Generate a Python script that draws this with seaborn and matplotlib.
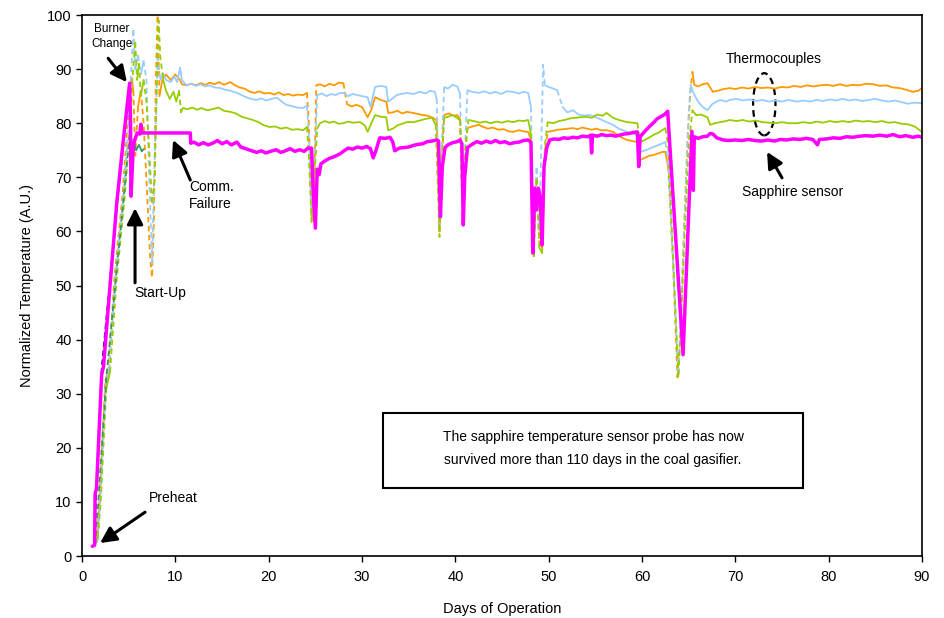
import matplotlib
matplotlib.use("Agg")
import matplotlib.pyplot as plt
from matplotlib.patches import Ellipse, Rectangle
import pandas as pd
import seaborn as sns

sns.set_theme(style="ticks")
plt.rcParams["font.family"] = ["Liberation Sans", "DejaVu Sans"]
plt.rcParams["text.color"] = "black"

# ---- sapphire sensor ----
sapphire_days = [1.1, 1.35, 1.4, 1.55, 2.1, 2.3, 3.0, 3.75, 4.4, 5.1, 5.2, 5.25, 5.5, 5.9, 6.2, 6.3, 6.4,
                 11.6, 11.65, 12.0, 12.5, 13.0, 13.5, 14.0, 14.5, 15.0, 15.5, 16.0, 16.6, 17.0, 17.5, 18.0,
                 18.7, 19.2, 19.7, 20.2, 20.8, 21.3, 21.8, 22.3, 22.8, 23.3, 23.8, 24.2, 24.6, 24.75, 25.0,
                 25.2, 25.4, 25.6, 26.0, 26.5, 27.0, 27.6, 28.0, 28.5, 29.0, 29.5, 30.0, 30.5, 30.9, 31.2,
                 31.5, 31.9, 32.5, 33.0, 33.3, 33.5, 34.0, 34.5, 35.0, 35.5, 36.0, 36.5, 37.0, 37.5, 38.0,
                 38.2, 38.4, 38.6, 38.9, 39.2, 39.7, 40.2, 40.5, 40.7, 40.85, 41.0, 41.3, 41.8, 42.3, 42.8,
                 43.3, 43.8, 44.3, 44.8, 45.3, 45.8, 46.3, 46.8, 47.3, 47.8, 48.1, 48.3, 48.5, 48.7, 48.9,
                 49.1, 49.3, 49.5, 49.8, 50.1, 50.6, 51.1, 51.6, 52.1, 52.6, 53.1, 53.6, 54.2, 54.5, 54.6,
                 54.7, 55.2, 55.7, 56.2, 56.7, 57.2, 57.6, 58.1, 58.6, 59.1, 59.5, 59.65, 59.8, 60.3, 60.8,
                 61.3, 61.6, 62.0, 62.4, 62.75, 64.4, 65.35, 65.5, 65.6, 66.0, 66.5, 67.0, 67.3, 67.6, 68.0,
                 68.7, 69.3, 70.0, 70.7, 71.4, 72.1, 72.8, 73.5, 74.2, 74.8, 75.5, 76.2, 76.9, 77.6, 78.3,
                 78.8, 79.0, 79.8, 80.5, 81.2, 81.9, 82.6, 83.3, 84.0, 84.7, 85.5, 86.2, 86.9, 87.6, 88.3,
                 89.0, 89.6, 90.0]
sapphire_temp = [1.8, 2.0, 11.5, 12.5, 33.5, 35.0, 50.0, 65.8, 76.5, 87.4, 80.0, 66.5, 76.0, 78.2, 78.0, 79.8, 78.2,
                 78.2, 76.3, 76.5, 76.0, 76.4, 76.0, 76.3, 76.8, 76.2, 76.6, 76.0, 76.5, 75.6, 75.3, 75.0,
                 74.6, 74.9, 74.5, 74.8, 75.1, 74.6, 74.9, 75.3, 74.8, 75.1, 74.8, 75.4, 75.4, 68.0, 60.6,
                 71.5, 70.5, 72.5, 73.0, 73.5, 73.8, 74.3, 74.8, 75.4, 75.2, 75.6, 75.4, 75.7, 75.3, 73.6,
                 75.0, 77.3, 77.2, 77.4, 76.5, 74.9, 75.4, 75.5, 75.6, 75.9, 76.1, 76.2, 76.6, 76.7, 76.9,
                 76.7, 62.7, 72.0, 75.5, 76.0, 76.4, 76.6, 76.9, 76.2, 61.2, 70.0, 75.5, 76.1, 76.6, 76.3,
                 76.7, 76.4, 76.8, 76.4, 76.6, 76.2, 76.4, 76.5, 76.8, 76.9, 76.5, 56.0, 68.0, 64.0, 68.0,
                 66.0, 57.5, 72.0, 75.5, 76.9, 77.1, 77.0, 77.3, 77.2, 77.4, 77.3, 77.6, 77.5, 77.8, 74.5,
                 77.8, 77.6, 77.9, 77.7, 77.8, 77.6, 77.8, 78.0, 78.1, 78.3, 78.4, 72.0, 77.5, 78.5, 79.4,
                 80.2, 80.8, 81.2, 81.6, 82.2, 37.2, 78.5, 67.6, 77.5, 77.2, 77.5, 77.6, 78.1, 78.0, 77.3,
                 76.9, 76.8, 76.9, 76.8, 77.0, 76.8, 76.7, 76.9, 76.7, 77.0, 76.9, 77.1, 77.0, 77.2, 77.0,
                 76.0, 77.0, 77.1, 77.3, 77.2, 77.5, 77.4, 77.6, 77.7, 77.6, 77.8, 77.6, 77.9, 77.5, 77.7,
                 77.4, 77.6, 77.4]

# ---- thermocouple 1 (orange) ----
tc1_days = [1.2, 1.6, 1.9, 2.5, 2.8, 3.5, 4.3, 4.8, 5.3, 5.5, 5.7, 6.0, 6.3, 6.6, 7.0, 7.3, 7.5, 7.7, 7.9, 8.1,
            8.3, 8.6, 9.0, 9.5, 10.0, 10.5, 10.7, 11.2, 11.7, 12.2, 12.7, 13.2, 13.7, 14.2, 14.7, 15.2, 15.9,
            16.4, 16.9, 17.4, 18.0, 18.5, 19.0, 19.5, 20.1, 20.6, 21.1, 21.6, 22.1, 22.6, 23.1, 23.7, 24.1,
            24.3, 24.6, 24.9, 25.1, 25.5, 26.0, 26.5, 27.0, 27.5, 28.0, 28.4, 28.9, 29.4, 30.0, 30.6, 31.0,
            31.4, 32.0, 32.6, 32.8, 33.3, 33.8, 34.3, 34.8, 35.5, 36.0, 36.5, 37.0, 37.6, 38.0, 38.3, 38.6,
            38.8, 39.3, 39.8, 40.2, 40.5, 40.8, 41.1, 41.3, 41.8, 42.5, 43.0, 43.5, 44.0, 44.6, 45.2, 45.7,
            46.2, 46.8, 47.3, 47.8, 48.1, 48.4, 48.7, 49.0, 49.3, 49.6, 49.9, 50.5, 51.0, 51.6, 52.1, 52.6,
            53.1, 53.6, 54.1, 54.6, 55.1, 55.6, 56.2, 56.9, 57.4, 57.9, 58.4, 59.0, 59.5, 59.8, 60.3, 60.8,
            61.2, 61.7, 62.2, 62.5, 62.8, 63.3, 63.8, 64.1, 64.5, 64.9, 65.2, 65.4, 65.6, 66.0, 66.5, 67.0,
            67.6, 68.1, 68.7, 69.4, 70.0, 70.7, 71.4, 72.1, 72.8, 73.5, 74.2, 74.9, 75.6, 76.3, 77.0, 77.7,
            78.4, 79.1, 79.8, 80.5, 81.2, 81.9, 82.6, 83.3, 84.0, 84.8, 85.5, 86.2, 86.9, 87.6, 88.3, 89.0,
            89.6, 90.0]
tc1_temp = [2.0, 2.6, 11.5, 32.5, 34.0, 52.0, 66.0, 78.0, 88.5, 86.0, 74.0, 83.0, 86.0, 80.0, 66.0, 55.0, 51.5, 62.0, 88.0, 100.0,
            85.0, 88.0, 89.0, 88.0, 89.0, 88.0, 87.2, 87.0, 87.3, 87.0, 87.4, 87.1, 87.5, 87.2, 87.6, 87.1, 87.6,
            87.0, 86.6, 86.4, 85.8, 85.6, 85.9, 85.5, 85.6, 85.3, 85.7, 85.2, 85.4, 85.1, 85.3, 85.2, 85.6,
            80.0, 62.0, 70.0, 87.0, 87.2, 86.8, 87.3, 87.0, 87.5, 87.4, 83.5, 83.1, 83.4, 83.0, 81.1, 82.5,
            84.8, 84.3, 84.0, 81.9, 82.0, 82.3, 81.8, 82.1, 81.9, 81.7, 81.5, 81.4, 81.0, 80.5, 60.0, 75.0,
            81.5, 81.8, 81.4, 81.5, 80.8, 62.0, 75.0, 79.1, 79.4, 79.7, 79.3, 79.0, 79.2, 78.8, 78.9, 78.5,
            78.4, 78.7, 78.5, 78.4, 77.0, 56.0, 70.0, 58.0, 57.0, 75.0, 78.4, 78.6, 78.8, 78.9, 79.0, 79.1,
            78.9, 79.2, 79.0, 78.8, 79.0, 78.7, 78.7, 78.4, 77.8, 77.3, 76.9, 76.7, 76.5, 73.2, 73.6, 74.0,
            74.1, 74.4, 74.7, 74.7, 72.0, 55.0, 33.0, 40.0, 60.0, 78.0, 86.0, 89.5, 87.1, 86.8, 87.2, 87.4,
            85.8, 86.0, 86.3, 86.5, 86.3, 86.6, 86.4, 86.7, 86.5, 86.6, 86.4, 86.7, 86.6, 86.9, 86.7, 87.0,
            86.8, 87.0, 87.1, 86.9, 87.2, 86.9, 87.1, 87.0, 87.3, 87.2, 86.9, 87.0, 86.6, 86.5, 86.2, 85.8,
            86.0, 86.5]

# ---- thermocouple 2 (light blue) ----
tc2_days = [1.3, 1.7, 2.0, 2.6, 2.9, 3.6, 4.4, 5.0, 5.5, 5.7, 6.0, 6.3, 6.6, 6.9, 7.2, 7.5, 7.8, 8.1, 8.4, 8.7,
            9.0, 9.5, 9.9, 10.2, 10.5, 10.7, 11.2, 11.7, 12.2, 12.7, 13.2, 13.7, 14.2, 14.8, 15.3, 15.9, 16.6,
            17.1, 17.6, 18.1, 18.7, 19.2, 19.7, 20.3, 20.9, 21.4, 21.9, 22.4, 23.0, 23.7, 24.1, 24.3, 24.6,
            24.9, 25.2, 25.7, 26.2, 26.7, 27.2, 27.6, 28.0, 28.5, 29.0, 29.5, 30.0, 30.6, 30.9, 31.1, 31.4,
            32.0, 32.6, 32.8, 33.3, 33.7, 34.2, 34.8, 35.5, 36.2, 36.8, 37.3, 37.8, 38.0, 38.3, 38.6, 38.8,
            39.2, 39.7, 40.2, 40.5, 40.8, 41.1, 41.3, 41.8, 42.5, 43.1, 43.7, 44.3, 44.9, 45.5, 46.2, 46.8,
            47.3, 47.8, 48.1, 48.4, 48.7, 49.0, 49.2, 49.4, 49.6, 50.0, 50.5, 50.9, 51.5, 52.0, 52.6, 53.2,
            53.8, 54.4, 55.2, 55.7, 56.2, 56.9, 57.5, 58.4, 59.0, 59.5, 59.8, 60.4, 61.2, 61.8, 62.5, 62.8,
            63.9, 65.0, 65.2, 65.5, 66.0, 66.5, 67.0, 67.5, 68.0, 68.4, 69.0, 69.4, 70.1, 70.8, 71.5, 72.2,
            72.9, 73.6, 74.3, 75.0, 75.7, 76.6, 77.3, 78.0, 78.7, 79.4, 80.1, 80.8, 81.5, 82.2, 82.9, 83.6,
            84.3, 85.0, 85.7, 86.4, 87.1, 87.8, 88.5, 89.2, 90.0]
tc2_temp = [2.2, 3.0, 12.0, 32.0, 34.5, 52.0, 66.0, 80.0, 97.5, 90.0, 92.5, 89.0, 91.5, 88.0, 70.0, 54.0, 75.0, 92.0, 88.0, 89.2,
            88.0, 87.6, 88.6, 87.6, 90.3, 88.0, 87.0, 87.3, 86.9, 87.2, 86.8, 87.0, 86.6, 86.5, 86.2, 86.0, 85.6,
            85.2, 84.8, 84.5, 84.3, 84.6, 84.2, 84.5, 84.7, 84.0, 83.4, 83.2, 82.9, 82.8, 83.3, 78.0, 63.0,
            72.0, 85.2, 85.5, 85.0, 85.4, 85.2, 85.6, 85.6, 85.0, 85.4, 85.2, 85.0, 84.8, 83.0, 84.5, 86.7,
            86.9, 86.7, 84.0, 84.6, 85.2, 85.4, 85.6, 85.4, 85.8, 85.5, 86.0, 85.8, 84.5, 60.0, 78.0, 86.7,
            86.4, 87.1, 86.8, 85.5, 62.0, 78.0, 86.1, 85.8, 85.6, 85.9, 85.5, 85.8, 85.4, 85.9, 85.8, 85.5,
            85.8, 85.6, 83.0, 56.0, 72.0, 60.0, 75.0, 90.8, 87.0, 86.7, 86.4, 86.1, 83.0, 82.0, 82.4, 81.6,
            81.4, 81.5, 81.0, 80.6, 80.2, 79.7, 79.0, 78.4, 78.1, 77.8, 74.7, 75.0, 75.6, 76.0, 76.5, 73.0,
            33.5, 82.0, 87.1, 85.6, 84.0, 83.0, 82.4, 83.5, 84.0, 84.3, 84.0, 84.3, 84.5, 84.2, 84.4, 84.1,
            84.3, 84.0, 84.2, 84.0, 84.3, 84.0, 84.2, 84.0, 84.3, 84.1, 84.4, 84.2, 84.5, 84.2, 84.4, 84.1,
            84.3, 84.5, 84.2, 84.0, 84.2, 83.9, 83.6, 83.8, 83.7]

# ---- thermocouple 3 (yellow-green) ----
tc3_days = [1.3, 1.7, 2.0, 2.6, 3.0, 3.7, 4.5, 5.1, 5.4, 5.7, 5.9, 6.1, 6.3, 6.6, 6.9, 7.2, 7.5, 7.8, 8.0, 8.2,
            8.4, 8.7, 9.0, 9.4, 9.8, 10.1, 10.4, 10.6, 10.8, 11.3, 11.8, 12.3, 12.8, 13.4, 14.0, 14.6, 15.2,
            15.9, 16.5, 17.1, 17.7, 18.3, 18.9, 19.5, 20.1, 20.7, 21.3, 21.9, 22.5, 23.1, 23.7, 24.1, 24.3,
            24.6, 24.9, 25.2, 25.5, 26.0, 26.5, 27.0, 27.5, 28.0, 28.5, 29.0, 29.8, 30.3, 30.6, 31.0, 31.4,
            32.0, 32.6, 32.8, 33.3, 33.8, 34.3, 34.8, 35.5, 36.2, 36.8, 37.5, 37.9, 38.3, 38.6, 38.8, 39.2,
            39.7, 40.2, 40.5, 40.8, 41.1, 41.4, 42.0, 42.6, 43.2, 43.8, 44.4, 45.0, 45.6, 46.2, 46.8, 47.3,
            47.8, 48.1, 48.4, 48.7, 49.0, 49.3, 49.6, 49.9, 50.5, 51.1, 51.7, 52.3, 53.4, 54.0, 54.6, 55.2,
            55.8, 56.2, 56.9, 57.5, 58.4, 59.0, 59.5, 59.8, 60.4, 61.2, 61.8, 62.5, 62.8, 63.9, 65.0, 65.4,
            65.8, 66.3, 67.0, 67.3, 67.8, 68.4, 69.0, 69.4, 70.1, 70.8, 71.5, 72.2, 72.9, 73.6, 74.3, 75.0,
            75.7, 76.6, 77.3, 78.0, 78.7, 79.4, 80.1, 80.8, 81.5, 82.2, 82.9, 83.6, 84.3, 85.0, 85.7, 86.4,
            87.1, 87.8, 88.5, 89.2, 89.6, 90.0]
tc3_temp = [2.5, 3.5, 10.0, 31.0, 34.0, 51.0, 65.0, 78.0, 88.0, 95.3, 88.0, 91.0, 85.0, 88.0, 84.0, 75.0, 65.0, 70.0, 86.0, 99.0,
            92.0, 88.0, 86.0, 84.5, 85.8, 84.0, 86.0, 82.0, 82.8, 82.6, 82.9, 82.5, 82.8, 82.4, 82.6, 82.9, 82.3,
            82.1, 81.8, 81.2, 80.9, 80.6, 80.2, 79.6, 79.3, 79.4, 79.0, 79.2, 78.8, 78.9, 78.7, 79.3, 74.0,
            61.7, 70.0, 79.0, 80.0, 80.4, 80.1, 80.3, 79.9, 80.0, 80.3, 80.1, 80.2, 79.6, 78.4, 80.0, 81.5,
            81.2, 81.1, 78.7, 79.0, 79.6, 79.9, 80.2, 80.2, 80.5, 80.8, 81.0, 79.7, 59.0, 75.0, 81.0, 81.2,
            81.5, 81.0, 80.5, 61.0, 76.0, 80.6, 80.4, 80.1, 80.3, 80.0, 80.3, 80.1, 80.4, 80.2, 80.5, 80.4,
            80.6, 78.0, 55.0, 70.0, 57.0, 56.0, 76.0, 80.2, 80.0, 80.4, 80.6, 80.9, 81.1, 81.2, 81.0, 81.6,
            81.4, 81.9, 81.0, 80.6, 80.2, 80.1, 80.0, 76.5, 77.0, 77.8, 78.3, 79.1, 76.0, 33.0, 76.0, 82.4,
            81.5, 81.6, 81.1, 79.7, 80.0, 80.2, 80.4, 80.6, 80.4, 80.6, 80.3, 80.5, 80.2, 80.1, 80.0, 80.2,
            80.0, 80.0, 80.2, 80.0, 80.3, 80.1, 80.4, 80.2, 80.4, 80.2, 80.5, 80.3, 80.4, 80.2, 80.4, 80.1,
            80.2, 79.9, 79.8, 79.4, 78.9, 78.4]

# ---- start-up traces (navy, teal) ----
tc4_days = [1.3, 1.5, 2.1, 3.8, 5.0, 5.15, 5.2]
tc4_temp = [2.0, 11.0, 34.5, 66.0, 85.0, 80.0, 66.5]
tc5_days = [1.4, 1.7, 2.6, 4.4, 5.1, 5.3, 5.5, 5.8, 6.1, 6.4, 6.6]
tc5_temp = [2.0, 9.0, 33.0, 65.0, 78.0, 70.0, 77.0, 75.0, 76.0, 74.8, 75.2]

ORANGE, LBLUE, GREEN = "#FF9900", "#99CCFF", "#99CC00"
MAGENTA, NAVY, TEAL = "#FF00FF", "#000080", "#339966"


def split_runs(days, temps, jump=3.0):
    """Group a trace into runs: gentle stretches drawn solid, steep moves dashed."""
    rows, run_id, prev = [], 0, None
    for i in range(len(days) - 1):
        kind = "dash" if abs(temps[i + 1] - temps[i]) > jump else "solid"
        if kind != prev:
            run_id += 1
            rows.append((days[i], temps[i], run_id, kind))
        rows.append((days[i + 1], temps[i + 1], run_id, kind))
        prev = kind
    return pd.DataFrame(rows, columns=["day", "temp", "run", "kind"])


fig = plt.figure(figsize=(9.44, 6.18), dpi=100)
ax = fig.add_axes([0.0869, 0.1003, 0.8898, 0.8754])

traces = [(tc1_days, tc1_temp, ORANGE), (tc2_days, tc2_temp, LBLUE), (tc3_days, tc3_temp, GREEN),
          (tc5_days, tc5_temp, TEAL), (tc4_days, tc4_temp, NAVY)]
for days, temps, col in traces:
    df = split_runs(days, temps)
    solid = df[df["kind"] == "solid"]
    dash = df[df["kind"] == "dash"]
    if len(solid):
        sns.lineplot(data=solid, x="day", y="temp", units="run", estimator=None, sort=False,
                     color=col, linewidth=1.3, ax=ax)
    if len(dash):
        sns.lineplot(data=dash, x="day", y="temp", units="run", estimator=None, sort=False,
                     color=col, linewidth=1.3, linestyle=(0, (3, 2)), ax=ax)

sapphire = pd.DataFrame({"day": sapphire_days, "temp": sapphire_temp})
sns.lineplot(data=sapphire, x="day", y="temp", estimator=None, sort=False,
             color=MAGENTA, linewidth=2.5, ax=ax)

ax.set_xlim(0, 90)
ax.set_ylim(0, 100)
ax.set_xticks(range(0, 91, 10))
ax.set_yticks(range(0, 101, 10))
ax.tick_params(direction="out", length=4, width=1, colors="black", labelsize=10.5)
ax.tick_params(axis="x", pad=6)
for sp in ax.spines.values():
    sp.set_visible(True)
    sp.set_color("black")
    sp.set_linewidth(1.2)
ax.set_xlabel("Days of Operation", fontsize=10.5, color="black", labelpad=13)
ax.set_ylabel("Normalized Temperature (A.U.)", fontsize=10.5, color="black", labelpad=9)

arrow = dict(arrowstyle="-|>,head_length=0.8,head_width=0.4", lw=2.2, color="black",
             shrinkA=0, shrinkB=0)

ax.text(3.2, 96.0, "Burner\nChange", fontsize=8.5, ha="center", va="center", linespacing=1.3)
ax.annotate("", xy=(4.8, 87.6), xytext=(2.8, 92.0), arrowprops=arrow)

ax.text(8.4, 48.6, "Start-Up", fontsize=10, ha="center", va="center")
ax.annotate("", xy=(5.68, 64.3), xytext=(5.68, 50.5), arrowprops=arrow)

ax.text(11.5, 66.6, "Comm.\nFailure", fontsize=10, ha="left", va="center", linespacing=1.3)
ax.annotate("", xy=(9.75, 76.9), xytext=(11.6, 69.5), arrowprops=arrow)

ax.text(9.75, 10.7, "Preheat", fontsize=10, ha="center", va="center")
ax.annotate("", xy=(1.93, 2.4), xytext=(6.75, 8.1), arrowprops=arrow)

ax.text(74.1, 91.9, "Thermocouples", fontsize=10, ha="center", va="center")
ax.add_patch(Ellipse((73.1, 83.5), 2.4, 11.5, fill=False, edgecolor="black",
                     linestyle=(0, (3, 2)), linewidth=1.6))

ax.text(76.1, 67.3, "Sapphire sensor", fontsize=10, ha="center", va="center")
ax.annotate("", xy=(73.4, 74.7), xytext=(75.0, 69.9), arrowprops=arrow)

ax.add_patch(Rectangle((32.25, 12.6), 45.0, 13.8, fill=True, facecolor="white",
                       edgecolor="black", linewidth=1.5, zorder=5))
ax.text(54.75, 22.0, "The sapphire temperature sensor probe has now", fontsize=10,
        ha="center", va="center", zorder=6)
ax.text(54.75, 17.7, "survived more than 110 days in the coal gasifier.", fontsize=10,
        ha="center", va="center", zorder=6)

fig.savefig("out.png", dpi=100)
